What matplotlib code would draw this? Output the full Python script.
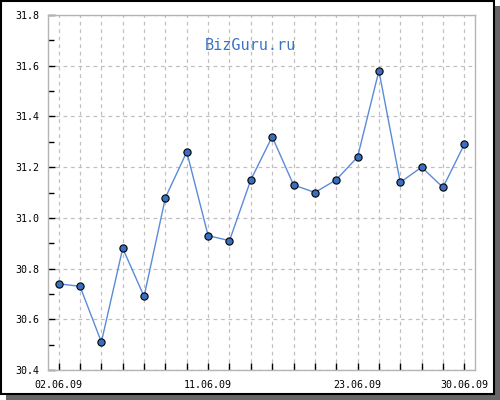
import matplotlib
matplotlib.use("Agg")
import matplotlib.pyplot as plt
from matplotlib.patches import Rectangle
from matplotlib.ticker import MultipleLocator

# June 2009 quote dates and values
dates = ["02.06.09", "03.06.09", "04.06.09", "05.06.09", "06.06.09",
         "09.06.09", "10.06.09", "11.06.09", "13.06.09", "16.06.09",
         "17.06.09", "18.06.09", "19.06.09", "20.06.09", "23.06.09",
         "24.06.09", "25.06.09", "26.06.09", "27.06.09", "30.06.09"]
values = [30.74, 30.73, 30.51, 30.88, 30.69,
          31.08, 31.26, 30.93, 30.91, 31.15,
          31.32, 31.13, 31.10, 31.15, 31.24,
          31.58, 31.14, 31.20, 31.12, 31.29]
shown_labels = ["02.06.09", "11.06.09", "23.06.09", "30.06.09"]
title = "BizGuru.ru"

fig = plt.figure(figsize=(5, 4), dpi=100)
W, H = 500.0, 400.0
# shadow and framed panel
fig.patches.append(Rectangle((6 / W, 0), 494 / W, 394 / H, transform=fig.transFigure,
                             facecolor="#666666", edgecolor="none", zorder=-2))
fig.patches.append(Rectangle((1 / W, 6 / H), 493 / W, 393 / H, transform=fig.transFigure,
                             facecolor="white", edgecolor="black", linewidth=1.5, zorder=-1))

ax = fig.add_axes([48 / W, 30 / H, 427 / W, 355 / H])
ax.set_zorder(2)
ax.set_facecolor("white")
x = list(range(len(values)))
ax.plot(x, values, color="#5b8bd8", linewidth=1.0, zorder=3)
ax.plot(x, values, linestyle="none", marker="o", markersize=5.2,
        markerfacecolor="#3a6ebf", markeredgecolor="black", markeredgewidth=0.8, zorder=4)

ax.set_xlim(-0.5, len(values) - 0.5)
ax.set_ylim(30.4, 31.8)
ax.yaxis.set_major_locator(MultipleLocator(0.2))
ax.yaxis.set_minor_locator(MultipleLocator(0.1))
ax.set_xticks(x)
ax.set_xticklabels([d if d in shown_labels else "" for d in dates])
ax.set_yticklabels(["%.1f" % v for v in ax.get_yticks()])

ax.grid(True, which="major", color="#c0c0c0", linestyle=(0, (3, 3)), linewidth=0.9, zorder=1)
ax.tick_params(which="both", direction="in", color="black", width=1, labelsize=7.2)
ax.tick_params(which="major", length=5)
ax.tick_params(which="minor", length=4)
ax.tick_params(axis="x", pad=7)
ax.tick_params(axis="y", pad=6.5)
for lab in ax.get_xticklabels() + ax.get_yticklabels():
    lab.set_family("DejaVu Sans Mono")
for s in ax.spines.values():
    s.set_color("#b4b4b4")
    s.set_linewidth(1)

fig.text(250 / W, 1 - 46 / H, title, ha="center", va="center", zorder=5,
         color="#3a74c8", fontsize=11, family="DejaVu Sans Mono")

fig.savefig("out.png", dpi=100)
